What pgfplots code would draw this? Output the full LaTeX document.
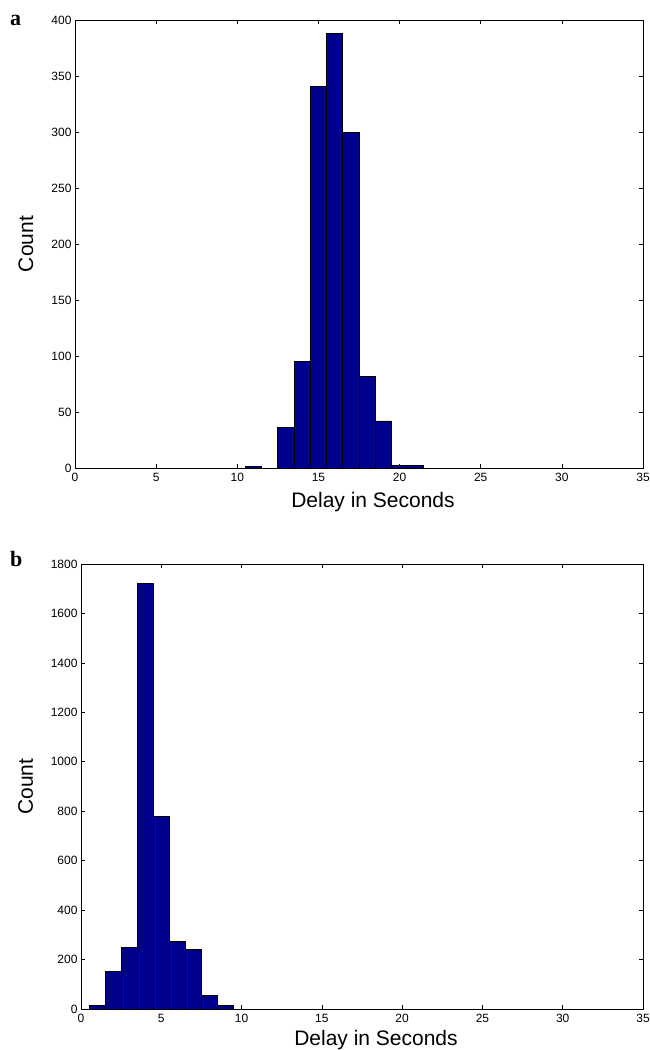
\documentclass[border=0pt]{standalone}
\usepackage{pgfplots}
\pgfplotsset{compat=1.18}
\usepackage{fontspec}
\setmainfont{Liberation Sans}
\newfontfamily\serifb{Liberation Serif}
\definecolor{barblue}{RGB}{0,0,140}
\pgfplotsset{
  mystyle/.style={
    scale only axis,
    xmin=0, xmax=35, ymin=0,
    xtick={0,5,...,35},
    tick align=inside,
    major tick length=4pt,
    axis line style={line width=0.8pt},
    tick style={black, line width=0.6pt},
    ticklabel style={font=\fontsize{12}{14}\selectfont},
    /pgf/number format/assume math mode=true,
    /pgf/number format/set thousands separator={},
    xticklabel style={yshift=-2pt},
    label style={font=\fontsize{21}{24}\selectfont},
    xlabel={Delay in Seconds},
    ylabel={Count},
  },
  mybar/.style={ybar, bar width=1, bar shift=0pt, fill=barblue, draw=black, line width=0.9pt},
}
\begin{document}
\begin{tikzpicture}
\useasboundingbox (0pt,0pt) rectangle (649pt,-1050pt);
\begin{axis}[mystyle, at={(75pt,-468pt)}, anchor=south west,
  width=568pt, height=448pt, ymax=400,
  ytick={0,50,...,400},
  xlabel style={at={(axis description cs:0.5,0)}, anchor=base, yshift=-39pt, xshift=14pt},
  ylabel style={at={(axis description cs:0,0.5)}, anchor=base, yshift=42pt}]
\addplot[mybar] coordinates {(11,1) (13,36) (14,95) (15,341) (16,388) (17,300) (18,82) (19,42) (20,2) (21,2)};
\end{axis}
\begin{axis}[mystyle, at={(81pt,-1009pt)}, anchor=south west,
  width=562pt, height=445pt, ymax=1800,
  ytick={0,200,...,1800},
  xlabel style={at={(axis description cs:0.5,0)}, anchor=base, yshift=-36pt, xshift=14pt},
  ylabel style={at={(axis description cs:0,0.5)}, anchor=base, yshift=48pt}]
\addplot[mybar] coordinates {(1,16) (2,151) (3,250) (4,1722) (5,780) (6,273) (7,241) (8,54) (9,16)};
\end{axis}
\node[anchor=base west, inner sep=0pt, font=\serifb\bfseries\fontsize{22}{24}\selectfont] at (10pt,-25pt) {a};
\node[anchor=base west, inner sep=0pt, font=\serifb\bfseries\fontsize{22}{24}\selectfont] at (10pt,-566pt) {b};
\end{tikzpicture}
\end{document}
